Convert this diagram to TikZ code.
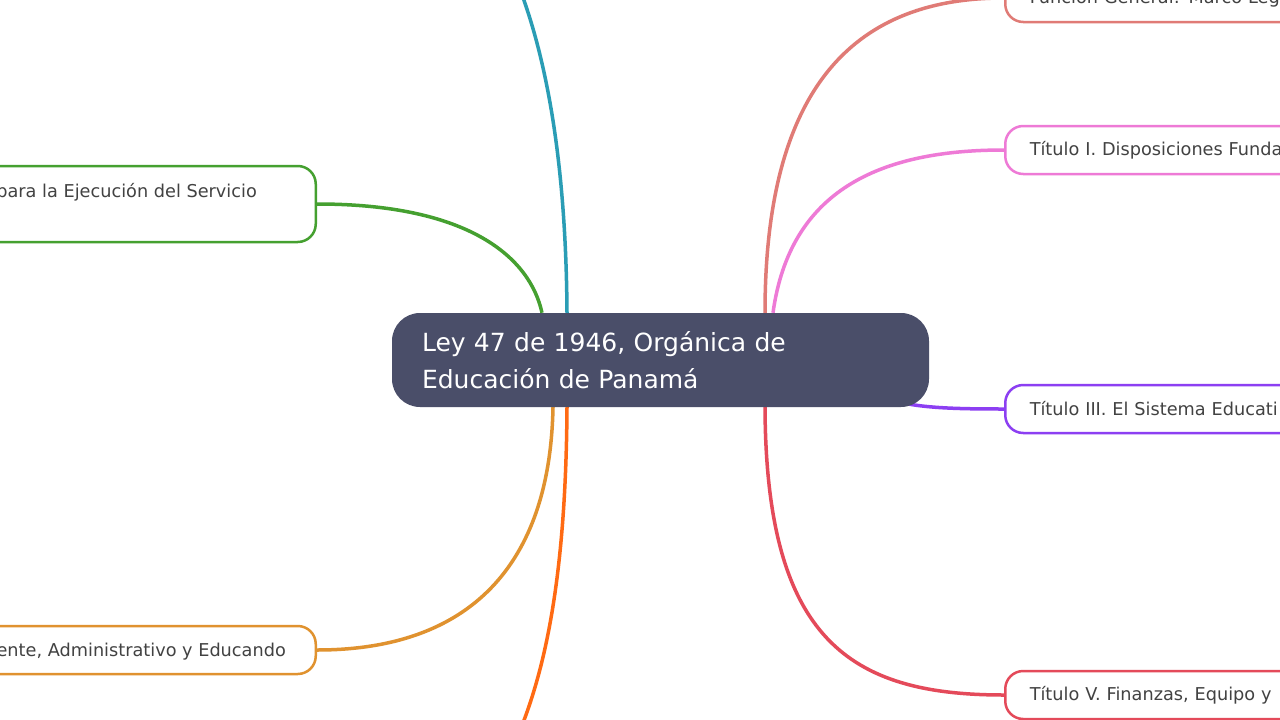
\documentclass[tikz,border=0pt]{standalone}
\usepackage{fontspec}
\setmainfont{DejaVu Sans}
\usetikzlibrary{backgrounds}
\definecolor{rootc}{HTML}{4A4E69}
\definecolor{txt}{HTML}{424242}
\definecolor{cteal}{HTML}{2A9DB5}
\definecolor{cgreen}{HTML}{45A030}
\definecolor{corange}{HTML}{E0922F}
\definecolor{cflame}{HTML}{FF6A13}
\definecolor{csalmon}{HTML}{E07B76}
\definecolor{cpink}{HTML}{EE7AD6}
\definecolor{cpurple}{HTML}{8C3FF2}
\definecolor{cred}{HTML}{E44A5A}
\tikzset{
  root/.style={fill=rootc, rounded corners=28, minimum width=537, minimum height=94,
    inner xsep=30, inner ysep=2, text width=477, align=left, text=white,
    font=\fontsize{25}{37}\selectfont},
  topic/.style={draw=#1, fill=white, rounded corners=18, line width=2.5,
    minimum height=48, inner xsep=24.5, text width=400, align=left, text=txt,
    font=\fontsize{17.7}{24}\selectfont},
  lbl/.style={text=txt, inner sep=0, font=\fontsize{17.7}{24}\selectfont},
  link/.style={draw=#1, line width=3.5}
}

\begin{document}
\begin{tikzpicture}[x=1pt,y=-1pt]
  \useasboundingbox (0,0) rectangle (1280,720);
  \clip (0,0) rectangle (1280,720);

  \node[root] (root) at (660.5,360) {Ley 47 de 1946, Orgánica de\\Educación de Panamá};

  \node[topic=csalmon, anchor=west] (gen) at (1004,-2) {Función General: Marco Leg};
  \node[topic=cpink, anchor=west] (tit1) at (1004,150) {Título I. Disposiciones Funda};
  \node[topic=cpurple, anchor=west] (tit3) at (1004,409) {Título III. El Sistema Educati};
  \node[topic=cred, anchor=west] (tit5) at (1004,695) {Título V. Finanzas, Equipo y};

  \node[topic=cgreen, anchor=east, minimum height=76] (serv) at (317,204) {};
  \node[lbl, anchor=base east] at ([xshift=-60,yshift=7]serv.east) {para la Ejecución del Servicio};
  \node[topic=corange, anchor=east] (pers) at (317,650) {};
  \node[lbl, anchor=base east] at ([xshift=-31,yshift=-6]pers.east) {ente, Administrativo y Educando};

  \coordinate (up) at (521,-8);
  \coordinate (down) at (521,728);

  \begin{scope}[on background layer]
    \fill[white] (0,0) rectangle (1280,720);
    \draw[link=cteal] ([xshift=-93.5]root.north) .. controls (566,160) and (546,60) .. (up);
    \draw[link=cgreen] ([xshift=-118.5]root.north) .. controls (530,258) and (470,204) .. (serv.east);
    \draw[link=corange] ([xshift=-107.5]root.south) .. controls (550,565) and (470,650) .. (pers.east);
    \draw[link=cflame] ([xshift=-93.5]root.south) .. controls (566,565) and (548,660) .. (down);
    \draw[link=csalmon] ([xshift=104.5]root.north) .. controls (765,80) and (860,-2) .. (gen.west);
    \draw[link=cpink] ([xshift=112.5]root.north) .. controls (790,190) and (880,150) .. (tit1.west);
    \draw[link=cpurple] ([xshift=-50,yshift=12]root.south east) .. controls (905,408) and (950,409) .. (tit3.west);
    \draw[link=cred] ([xshift=104.5]root.south) .. controls (766,640) and (850,695) .. (tit5.west);
  \end{scope}
\end{tikzpicture}
\end{document}
